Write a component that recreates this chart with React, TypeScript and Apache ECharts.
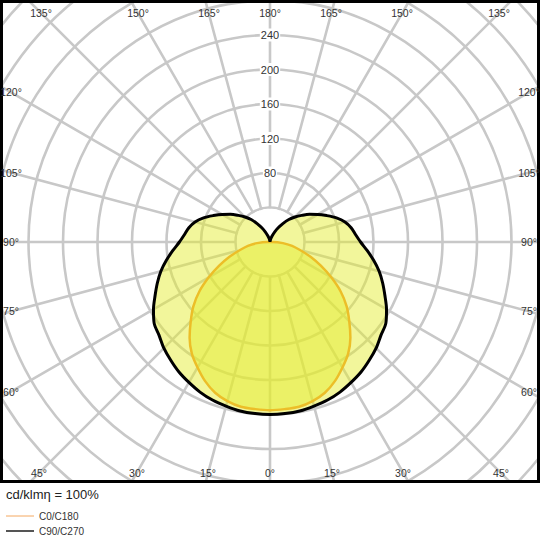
import { useEffect, useRef } from 'react';
import * as echarts from 'echarts';

// gamma = angle from nadir (deg), one half plane, 5 deg steps
const gammaAngles = [
  0, 5, 10, 15, 20, 25, 30, 35, 40, 45, 50, 55, 60, 65, 70, 75, 80, 85, 90,
  95, 100, 105, 110, 115, 120, 125, 130, 135, 140, 145, 150, 155, 160, 165, 170, 175, 180,
];

// luminous intensity, cd/klm
const c0c180 = [
  195, 194.5, 194, 191, 186, 178, 168, 158, 145, 130, 116, 100, 82, 65, 50, 36, 26, 15, 3,
  0, 0, 0, 0, 0, 0, 0, 0, 0, 0, 0, 0, 0, 0, 0, 0, 0, 0,
];
const c90c270 = [
  200, 199.7, 199, 197, 195, 192, 188, 184, 179, 174, 168, 164, 156, 147, 139, 131, 122, 113, 105,
  99.5, 95.5, 90, 82, 72.5, 64, 56, 48, 41, 34, 26, 19, 13, 8, 4.5, 2, 1, 0,
];

const seriesNames = ['C0/C180', 'C90/C270'];
const ringLabels = [80, 120, 160, 200, 240];
const angleLabels = [0, 15, 30, 45, 60, 75, 90, 105, 120, 135, 150, 165, 180];

const FONT = '"Liberation Sans", Arial, sans-serif';
const GRID = '#c8c8c8';

// angle axis runs clockwise from the top: right half v = 180 - g, left half v = 180 + g
function toPolar(values: number[]) {
  const pts: number[][] = [];
  for (let i = gammaAngles.length - 1; i >= 0; i--) pts.push([values[i], 180 - gammaAngles[i]]);
  for (let i = 1; i < gammaAngles.length; i++) pts.push([values[i], 180 + gammaAngles[i]]);
  return pts;
}

export default function App() {
  const chartRef = useRef<HTMLDivElement>(null);

  useEffect(() => {
    if (!chartRef.current) return;
    document.body.style.margin = '0';
    const chart = echarts.init(chartRef.current, null, { renderer: 'svg' });

    const option: echarts.EChartsOption = {
      animation: false,
      polar: { center: [270, 242], radius: 379.5 },
      angleAxis: {
        type: 'value',
        min: 0,
        max: 360,
        interval: 15,
        startAngle: 90,
        clockwise: true,
        axisLine: { show: false },
        axisTick: { show: false },
        axisLabel: { show: false },
        splitLine: { show: true, lineStyle: { color: GRID, width: 2.6 } },
      },
      radiusAxis: {
        type: 'value',
        min: 0,
        max: 440,
        interval: 40,
        axisLine: { show: false },
        axisTick: { show: false },
        axisLabel: { show: false },
        splitLine: { show: true, lineStyle: { color: GRID, width: 2.6 } },
      },
      title: {
        text: 'cd/klmη = 100%',
        left: 1,
        top: 483,
        textStyle: { fontFamily: FONT, fontSize: 13, fontWeight: 'normal', color: '#222' },
      },
      legend: {
        orient: 'vertical',
        left: 5,
        top: 511,
        padding: 0,
        itemWidth: 28,
        itemHeight: 8,
        itemGap: 5,
        selectedMode: false,
        textStyle: { fontFamily: FONT, fontSize: 10, color: '#333' },
        data: [
          { name: seriesNames[0], lineStyle: { color: '#f4a860', width: 1 }, itemStyle: { opacity: 0 } },
          { name: seriesNames[1], lineStyle: { color: '#555555', width: 2 }, itemStyle: { opacity: 0 } },
        ],
      },
      series: [
        {
          name: seriesNames[0],
          type: 'line',
          coordinateSystem: 'polar',
          symbol: 'none',
          smooth: 0.3,
          data: toPolar(c0c180),
          lineStyle: { color: '#f39423', width: 2.5 },
          itemStyle: { color: '#f39423' },
          areaStyle: { color: 'rgb(228,236,45)', opacity: 0.48 },
          z: 2,
        },
        {
          name: seriesNames[1],
          type: 'line',
          coordinateSystem: 'polar',
          symbol: 'none',
          smooth: 0.3,
          data: toPolar(c90c270),
          lineStyle: { color: '#000', width: 3 },
          itemStyle: { color: '#000' },
          areaStyle: { color: 'rgb(228,236,45)', opacity: 0.48 },
          z: 3,
        },
      ],
    };
    chart.setOption(option);

    const toPx = (r: number, v: number) =>
      chart.convertToPixel({ polarIndex: 0 } as any, [r, v]) as number[];
    const c = toPx(0, 0);
    const inner = toPx(40, 0);
    const innerR = Math.abs(c[1] - inner[1]);

    const graphics: any[] = [
      // radial lines start at the 40 ring
      { type: 'circle', shape: { cx: c[0], cy: c[1], r: innerR - 1.3 }, style: { fill: '#fff' }, z: 1, silent: true },
      // clear below frame
      { type: 'rect', shape: { x: 0, y: 483, width: 540, height: 57 }, style: { fill: '#fff' }, z: 3, silent: true },
      { type: 'rect', shape: { x: 1.5, y: 1.5, width: 537, height: 480 }, style: { fill: 'none', stroke: '#000', lineWidth: 3 }, z: 3, silent: true },
    ];

    ringLabels.forEach((r) => {
      const p = toPx(r, 0);
      graphics.push({
        type: 'text',
        x: p[0],
        y: p[1],
        z: 3,
        style: {
          text: String(r),
          fontFamily: FONT,
          fontSize: 11,
          fill: '#333',
          align: 'center',
          verticalAlign: 'middle',
          backgroundColor: '#fff',
          padding: [1, 1],
        },
      });
    });

    angleLabels.forEach((g) => {
      const vs = g === 0 || g === 180 ? [180 - g] : [180 - g, 180 + g];
      vs.forEach((v) => {
        const far = toPx(400, v);
        const dx = far[0] - c[0];
        const dy = far[1] - c[1];
        let x: number;
        let y: number;
        if (g >= 135) {
          y = 13;
          x = c[0] + (dx * (y - c[1])) / dy;
        } else if (g <= 45) {
          y = 473;
          x = c[0] + (dx * (y - c[1])) / dy;
        } else {
          x = c[0] + (dx > 0 ? 259 : -259);
          y = c[1] + (dy * (x - c[0])) / dx;
        }
        graphics.push({
          type: 'text',
          x: Math.round(x),
          y: Math.round(y),
          z: 4,
          style: {
            text: `${g}°`,
            fontFamily: FONT,
            fontSize: 10.5,
            fill: '#333333',
            align: 'center',
            verticalAlign: 'middle',
          },
        });
      });
    });

    chart.setOption({ graphic: graphics });

    return () => {
      chart.dispose();
    };
  }, []);

  return <div ref={chartRef} style={{ width: 540, height: 540 }} />;
}
